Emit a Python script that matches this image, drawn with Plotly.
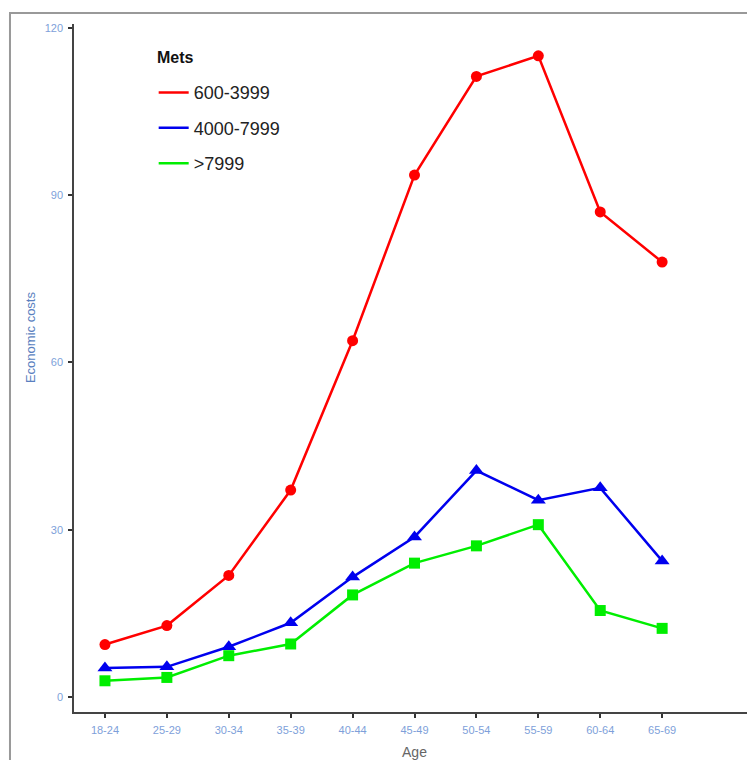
import plotly.graph_objects as go

ages = ["18-24", "25-29", "30-34", "35-39", "40-44", "45-49", "50-54", "55-59", "60-64", "65-69"]
mets_600_3999 = [9.4, 12.8, 21.8, 37.1, 63.9, 93.6, 111.3, 115.0, 87.0, 78.0]
mets_4000_7999 = [5.2, 5.4, 9.0, 13.3, 21.5, 28.7, 40.6, 35.3, 37.5, 24.4]
mets_gt_7999 = [2.9, 3.5, 7.4, 9.5, 18.3, 24.0, 27.1, 30.9, 15.5, 12.3]
series_names = ["600-3999", "4000-7999", ">7999"]
y_ticks = [0, 30, 60, 90, 120]

colors = ["#FF0000", "#0000EE", "#00EE00"]
symbols = ["circle", "triangle-up", "square"]
sizes = [11, 13, 11]
values = [mets_600_3999, mets_4000_7999, mets_gt_7999]

FONT = "Liberation Sans, Arial, sans-serif"

fig = go.Figure()
for name, vals, c, s, sz in zip(series_names, values, colors, symbols, sizes):
    fig.add_trace(go.Scatter(
        x=ages, y=vals, mode="lines+markers", name=name,
        line=dict(color=c, width=2.5),
        marker=dict(color=c, symbol=s, size=sz),
        showlegend=False, legendgroup=name,
    ))
    fig.add_trace(go.Scatter(
        x=[None], y=[None], mode="lines", name=name,
        line=dict(color=c, width=2.5),
        showlegend=True, legendgroup=name,
    ))

tick_font = dict(family=FONT, size=11, color="#7E9FDA")

# The page body has an 8px default margin, so the figure is sized/offset to compensate.
fig.update_layout(
    width=747, height=752,
    margin=dict(l=66, r=0, t=16, b=48),
    plot_bgcolor="white", paper_bgcolor="white",
    showlegend=True,
    legend=dict(
        font=dict(family=FONT, size=18, color="#222"),
        x=0.117, y=0.927, xanchor="left", yanchor="top",
        bgcolor="rgba(0,0,0,0)", tracegroupgap=9, itemwidth=30,
    ),
    xaxis=dict(
        type="category", categoryorder="array", categoryarray=ages,
        range=[-0.5, 10.5],
        showline=True, linecolor="#444", linewidth=1.5,
        ticks="outside", ticklen=4, tickcolor="#333", tickwidth=1.5,
        tickfont=tick_font, ticklabelstandoff=3, showgrid=False, zeroline=False,
        title=dict(text="Age", font=dict(family=FONT, size=14, color="#666"), standoff=12),
    ),
    yaxis=dict(
        range=[-2.7, 120.7], tickvals=y_ticks,
        showline=True, linecolor="#444", linewidth=1.5,
        ticks="outside", ticklen=4, tickcolor="#333", tickwidth=1.5,
        tickfont=tick_font, ticklabelstandoff=3, showgrid=False, zeroline=False,
    ),
    annotations=[
        dict(text="<b>Mets</b>", xref="paper", yref="paper", x=0.119, y=0.9506,
             xanchor="left", yanchor="middle", showarrow=False,
             font=dict(family=FONT, size=16, color="#111")),
        dict(text="Economic costs", xref="paper", yref="paper", x=-0.0646, y=0.545,
             xanchor="center", yanchor="middle", textangle=-90, showarrow=False,
             font=dict(family=FONT, size=13, color="#5A7FC0")),
    ],
    shapes=[dict(
        type="path", xref="paper", yref="paper",
        path="M -0.094 -0.2 L -0.094 1.016 L 1.1 1.016",
        line=dict(color="#999", width=2),
    )],
)

fig.write_html("out.html")
